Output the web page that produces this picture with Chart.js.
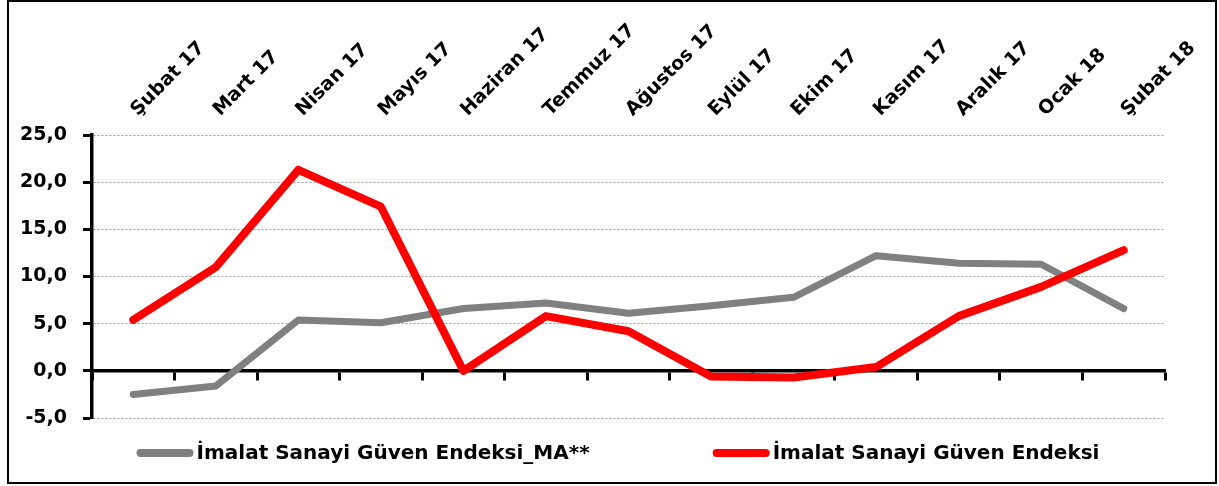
<!DOCTYPE html>
<html>
<head>
<meta charset="utf-8">
<script src="https://cdn.jsdelivr.net/npm/chart.js@4.4.1/dist/chart.umd.min.js"></script>
<style>
    body { margin: 0; background: #fff; }
    #frame { position: absolute; left: 7px; top: 0; width: 1206px; height: 480px; border: 2px solid #000; background: #fff; }
</style>
</head>
<body>
<div id="frame"><canvas id="chart"></canvas></div>
<script>
const months = ['Şubat 17', 'Mart 17', 'Nisan 17', 'Mayıs 17', 'Haziran 17', 'Temmuz 17', 'Ağustos 17',
    'Eylül 17', 'Ekim 17', 'Kasım 17', 'Aralık 17', 'Ocak 18', 'Şubat 18'];
const confidenceMA = [-2.5, -1.6, 5.4, 5.1, 6.6, 7.2, 6.1, 6.9, 7.8, 12.2, 11.4, 11.3, 6.6];
const confidenceIndex = [5.4, 11.0, 21.3, 17.4, 0.0, 5.8, 4.2, -0.6, -0.7, 0.4, 5.8, 8.9, 12.8];
const yTicks = [-5, 0, 5, 10, 15, 20, 25];

const labelFont = { family: 'DejaVu Sans', weight: 'bold', size: 19 };

// legend drawn by hand so the two items can sit far apart like the original
const wideLegend = {
    id: 'wideLegend',
    afterDraw(chart) {
        const ctx = chart.ctx;
        const items = chart.data.datasets;
        const sampleW = 57, gap = 123;
        ctx.save();
        ctx.font = 'bold 20px "DejaVu Sans"';
        ctx.textBaseline = 'middle';
        ctx.textAlign = 'left';
        const widths = items.map(d => sampleW + 3 + ctx.measureText(d.label).width);
        const total = widths.reduce((a, b) => a + b, 0) + gap * (items.length - 1);
        let x = 609 - total / 2;
        const y = 451;
        items.forEach((d, i) => {
            ctx.strokeStyle = d.borderColor;
            ctx.lineWidth = 8;
            ctx.lineCap = 'round';
            ctx.beginPath();
            ctx.moveTo(x + 4, y);
            ctx.lineTo(x + sampleW - 4, y);
            ctx.stroke();
            ctx.fillStyle = '#000';
            ctx.fillText(d.label, x + sampleW + 3, y + 1);
            x += widths[i] + gap;
        });
        ctx.restore();
    }
};

new Chart(document.getElementById('chart'), {
    type: 'line',
    data: {
        labels: months,
        datasets: [{
            label: 'İmalat Sanayi Güven Endeksi_MA**',
            data: confidenceMA,
            borderColor: '#808080',
            backgroundColor: '#808080',
            borderWidth: 7,
            pointRadius: 0,
            borderCapStyle: 'round',
            borderJoinStyle: 'round',
            tension: 0,
            order: 2
        }, {
            label: 'İmalat Sanayi Güven Endeksi',
            data: confidenceIndex,
            borderColor: '#ff0000',
            backgroundColor: '#ff0000',
            borderWidth: 8,
            pointRadius: 0,
            borderCapStyle: 'round',
            borderJoinStyle: 'round',
            tension: 0,
            order: 1
        }]
    },
    options: {
        responsive: true,
        maintainAspectRatio: false,
        animation: false,
        layout: { padding: { left: 0, right: 50, top: 0, bottom: 64 } },
        plugins: {
            legend: { display: false },
            tooltip: { enabled: false }
        },
        scales: {
            x: {
                type: 'category',
                position: 'top',
                offset: true,
                grid: { display: false },
                border: { display: false },
                ticks: {
                    color: '#000',
                    font: labelFont,
                    minRotation: 45,
                    maxRotation: 45,
                    autoSkip: false,
                    padding: 6,
                    labelOffset: 17
                },
                afterFit: s => { s.height = 133; }
            },
            xZero: {
                type: 'category',
                axis: 'x',
                position: { y: 0 },
                offset: true,
                labels: months,
                grid: {
                    offset: true,
                    drawOnChartArea: false,
                    drawTicks: true,
                    tickLength: 8,
                    tickColor: '#000',
                    tickWidth: 3
                },
                border: { display: true, color: '#000', width: 3.5 },
                ticks: { display: false }
            },
            y: {
                min: -5,
                max: 25,
                afterBuildTicks: s => { s.ticks = yTicks.map(v => ({ value: v })); },
                grid: {
                    color: '#9a9a9a',
                    lineWidth: 1,
                    drawTicks: true,
                    tickLength: 9,
                    tickColor: '#000',
                    tickWidth: 3,
                    tickBorderDash: []
                },
                border: { display: true, color: '#000', width: 3.5, dash: [2, 2] },
                ticks: {
                    color: '#000',
                    font: labelFont,
                    padding: 16,
                    callback: v => v.toFixed(1).replace('.', ',')
                },
                afterFit: s => { s.width = 83; }
            }
        }
    },
    plugins: [wideLegend]
});
</script>
</body>
</html>
